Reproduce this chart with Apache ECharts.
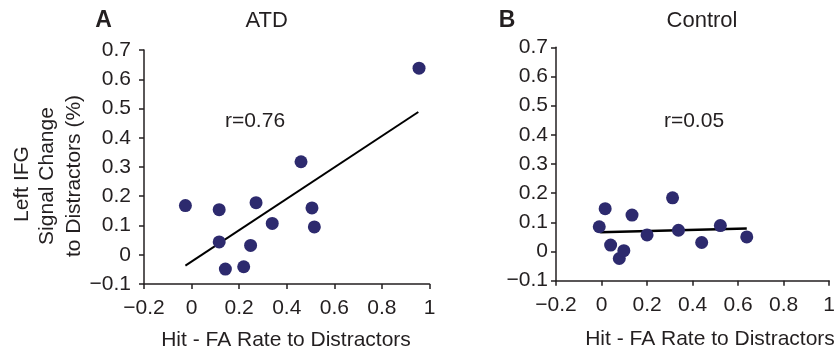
<!DOCTYPE html>
<html>
<head>
<meta charset="utf-8">
<script src="https://cdn.jsdelivr.net/npm/echarts@6/dist/echarts.min.js"></script>
<style>
html,body{margin:0;padding:0;background:#fff;}
#chart{width:838px;height:351px;}
</style>
</head>
<body>
<div id="chart"></div>
<script>
// ---- data ----
var atdPoints = [
  [-0.026, 0.168], [0.116, 0.154], [0.271, 0.178], [0.460, 0.318],
  [0.956, 0.638], [0.506, 0.160], [0.516, 0.095], [0.339, 0.107],
  [0.116, 0.044], [0.248, 0.032], [0.142, -0.049], [0.219, -0.041]
];
var atdFit = [[-0.026, -0.037], [0.953, 0.488]];
var ctrlPoints = [
  [-0.010, 0.085], [0.016, 0.147], [0.040, 0.022], [0.078, -0.024],
  [0.098, 0.003], [0.134, 0.125], [0.200, 0.057], [0.312, 0.184],
  [0.338, 0.073], [0.440, 0.031], [0.522, 0.089], [0.638, 0.050]
];
var ctrlFit = [[-0.006, 0.066], [0.638, 0.079]];
var panelTitles = ['ATD', 'Control'];
var panelLetters = ['A', 'B'];
var rLabels = ['r=0.76', 'r=0.05'];
var xTitle = 'Hit - FA Rate to Distractors';
var yTitleLines = ['Left IFG', 'Signal Change', 'to Distractors (%)'];

// ---- styling ----
var FONT = '"Liberation Sans", Arial, Helvetica, sans-serif';
var TXT = '#231f20';
var DOT = '#2d2a6e';

function fmt(v) {
  var s = (Math.round(v * 10) / 10).toString();
  if (s === '-0') s = '0';
  return s.replace('-', '\u2212');
}

function xAxisCfg(gi) {
  return {
    gridIndex: gi, type: 'value', min: -0.2, max: 1, interval: 0.2,
    axisLine: {show: true, onZero: false, lineStyle: {color: TXT, width: 1.5}},
    axisTick: {show: true, inside: false, length: 5, lineStyle: {color: TXT, width: 1.5}},
    splitLine: {show: false},
    axisLabel: {fontFamily: FONT, fontSize: 21, color: TXT, margin: 14, formatter: fmt}
  };
}
function yAxisCfg(gi, margin) {
  return {
    gridIndex: gi, type: 'value', min: -0.1, max: 0.7, interval: 0.1,
    axisLine: {show: true, onZero: false, lineStyle: {color: TXT, width: 1.5}},
    axisTick: {show: true, inside: false, length: 5, lineStyle: {color: TXT, width: 1.5}},
    splitLine: {show: false},
    axisLabel: {fontFamily: FONT, fontSize: 21, color: TXT, margin: margin, formatter: fmt}
  };
}

var chart = echarts.init(document.getElementById('chart'), null, {renderer: 'canvas'});

var graphics = [];
function txt(x, y, s, size, weight, rot) {
  graphics.push({
    type: 'text', x: x, y: y, rotation: rot || 0,
    style: {text: s, fontFamily: FONT, fontSize: size, fontWeight: weight || 'normal',
            fill: TXT, textAlign: 'center', textVerticalAlign: 'middle'}
  });
}
txt(103.5, 21, panelLetters[0], 23, 'bold');
txt(266.7, 21, panelTitles[0], 22);
txt(507, 21, panelLetters[1], 23, 'bold');
txt(702, 21, panelTitles[1], 22);
txt(255, 121, rLabels[0], 21);
txt(694, 121, rLabels[1], 21);
txt(286, 340, xTitle, 21);
txt(710, 339, xTitle, 21);
txt(22, 184, yTitleLines[0], 21, 'normal', Math.PI / 2);
txt(47, 176, yTitleLines[1], 21, 'normal', Math.PI / 2);
txt(74, 176, yTitleLines[2], 21, 'normal', Math.PI / 2);

chart.setOption({
  animation: false,
  backgroundColor: '#fff',
  grid: [
    {left: 144, top: 50, width: 285.5, height: 234},
    {left: 556, top: 47.3, width: 283.2, height: 233.4}
  ],
  xAxis: [xAxisCfg(0), xAxisCfg(1)],
  yAxis: [yAxisCfg(0, 13), yAxisCfg(1, 8)],
  graphic: graphics,
  series: [
    {type: 'line', xAxisIndex: 0, yAxisIndex: 0, data: atdFit, showSymbol: false,
     lineStyle: {color: '#000', width: 2}, z: 2},
    {type: 'scatter', xAxisIndex: 0, yAxisIndex: 0, data: atdPoints, symbolSize: 13,
     itemStyle: {color: DOT, opacity: 1}, z: 3},
    {type: 'line', xAxisIndex: 1, yAxisIndex: 1, data: ctrlFit, showSymbol: false,
     lineStyle: {color: '#000', width: 2.5}, z: 2},
    {type: 'scatter', xAxisIndex: 1, yAxisIndex: 1, data: ctrlPoints, symbolSize: 13,
     itemStyle: {color: DOT, opacity: 1}, z: 3}
  ]
});
</script>
</body>
</html>
